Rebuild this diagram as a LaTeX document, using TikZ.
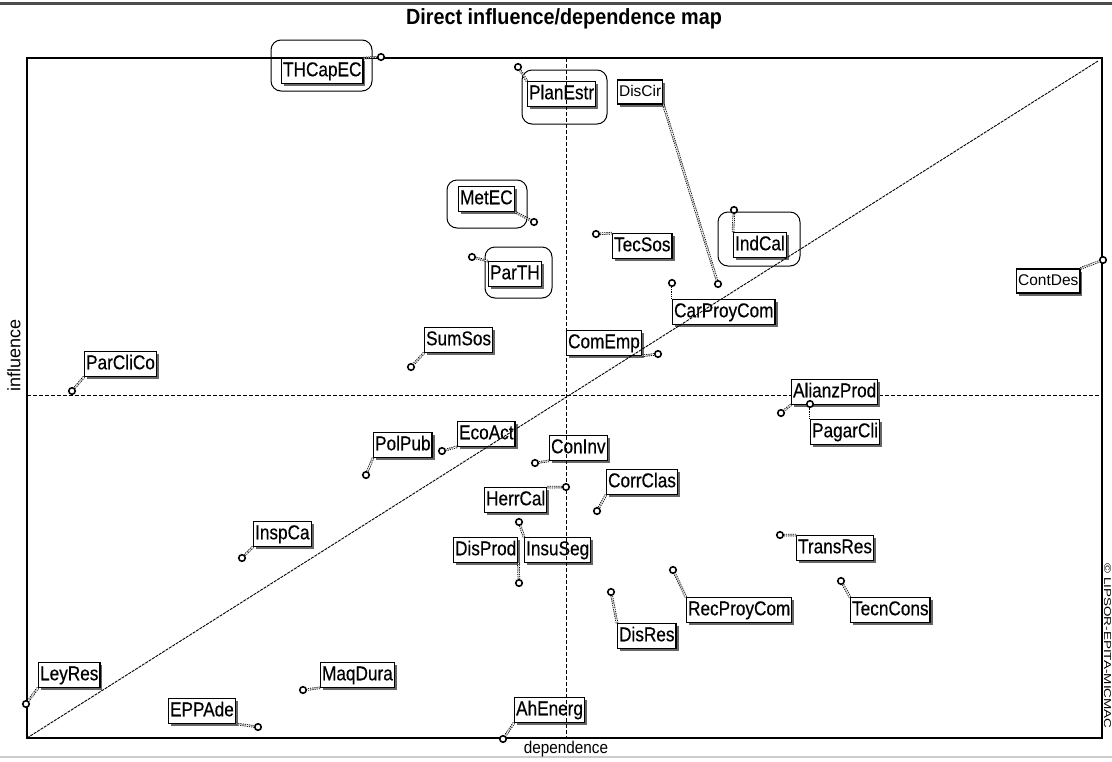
\documentclass[tikz,border=0pt]{standalone}
\usepackage{fontspec}
\setmainfont{Liberation Sans}
\newfontfamily\labfont[FakeStretch=0.86,FakeBold=0.4]{Liberation Sans}
\newfontfamily\titfont[FakeStretch=0.9]{Liberation Sans}
\newfontfamily\widefont[FakeStretch=1.35]{Liberation Sans}
\usetikzlibrary{shadows}
\begin{document}
\begin{tikzpicture}[x=1pt,y=-1pt,
  lbl/.style={draw, fill=white, line width=1.2pt, inner xsep=1.5pt, inner ysep=3pt, anchor=west,
    text height=14.5pt, text depth=4pt, font=\labfont\fontsize{20}{22}\selectfont,
    drop shadow={shadow xshift=2.5pt, shadow yshift=-2.5pt, fill=black!60, opacity=1}},
  lblw/.style={lbl, font=\fontsize{15.5}{18}\selectfont, text height=11.5pt, text depth=3.5pt, inner ysep=4.5pt},
  mk/.style={circle, draw, fill=white, line width=1.6pt, inner sep=0pt, minimum size=6.5pt},
  con/.style={draw=black, line width=0.8pt, double=white, double distance=0.9pt, dash pattern=on 1.2pt off 1pt},
  encl/.style={draw, rounded corners=10pt, line width=1pt},
  axis/.style={line width=1.6pt},
  mid/.style={line width=0.8pt, dash pattern=on 4pt off 2pt},
  diag/.style={line width=0.9pt, dash pattern=on 3pt off 1pt}
]
\useasboundingbox[fill=white] (0,0) rectangle (1112,761);
\draw[line width=3pt, black!70] (0,3) -- (1112,3);
\draw[line width=1.5pt, black!20] (0,757) -- (1112,757);
\node[font=\titfont\bfseries\fontsize{22}{24}\selectfont] (title) at (564,19) {Direct influence/dependence map};

% frame and axes
\coordinate (bl) at (27,738);
\coordinate (tr) at (1102,58);
\draw[axis] (bl) rectangle (tr);
\coordinate (hl) at (27,395);
\coordinate (hr) at (1102,395);
\draw[mid] (hl) -- (hr);
\node[font=\fontsize{18}{20}\selectfont, rotate=90] (ylab) at (14,355) {influence};
\node[font=\titfont\fontsize{17}{19}\selectfont] (xlab) at (566,749) {dependence};
\node[font=\widefont\fontsize{10}{12}\selectfont, rotate=-90, inner sep=0pt] (copy) at (1107.5,646) {© LIPSOR-EPITA-MICMAC};

% enclosures
\draw[encl] (271,40) rectangle (372,91);
\draw[encl] (522,70) rectangle (607,124);
\draw[encl] (447,180) rectangle (527,228);
\draw[encl] (485,247) rectangle (552,298);
\draw[encl] (718,212) rectangle (800,266);

% labels
\node[lbl] (lTHCapEC) at (281,71) {THCapEC};
\node[lbl] (lPlanEstr) at (527,94) {PlanEstr};
\node[lblw] (lDisCir) at (617,92) {DisCir};
\node[lbl] (lMetEC) at (458,199) {MetEC};
\node[lbl] (lParTH) at (488,274) {ParTH};
\node[lbl] (lTecSos) at (612,246) {TecSos};
\node[lbl] (lIndCal) at (733,245) {IndCal};
\node[lblw] (lContDes) at (1016,281) {ContDes};
\node[lbl] (lCarProyCom) at (672,312) {CarProyCom};
\node[lbl] (lComEmp) at (566,343) {ComEmp};
\node[lbl] (lSumSos) at (424,340) {SumSos};
\node[lbl] (lParCliCo) at (84,364) {ParCliCo};
\node[lbl] (lAlianzProd) at (791,392) {AlianzProd};
\node[lbl] (lPagarCli) at (810,432) {PagarCli};
\node[lbl] (lPolPub) at (373,445) {PolPub};
\node[lbl] (lEcoAct) at (457,434) {EcoAct};
\node[lbl] (lConInv) at (549,448) {ConInv};
\node[lbl] (lHerrCal) at (484,500) {HerrCal};
\node[lbl] (lCorrClas) at (606,482) {CorrClas};
\node[lbl] (lDisProd) at (453,550) {DisProd};
\node[lbl] (lInsuSeg) at (524,550) {InsuSeg};
\node[lbl] (lInspCa) at (253,534) {InspCa};
\node[lbl] (lTransRes) at (796,548) {TransRes};
\node[lbl] (lRecProyCom) at (686,610) {RecProyCom};
\node[lbl] (lDisRes) at (617,636) {DisRes};
\node[lbl] (lTecnCons) at (850,610) {TecnCons};
\node[lbl] (lLeyRes) at (38,675) {LeyRes};
\node[lbl] (lMaqDura) at (320,675) {MaqDura};
\node[lbl] (lEPPAde) at (168,711) {EPPAde};
\node[lbl] (lAhEnerg) at (514,710) {AhEnerg};

% reference lines drawn over labels
\coordinate (vt) at (566,58);
\coordinate (vb) at (566,738);
\draw[mid] (vt) -- (vb);
\coordinate (dtr) at (1098,61);
\draw[diag] (bl) -- (dtr);

% markers
\node[mk] (pTHCapEC) at (381,57) {};
\node[mk] (pPlanEstr) at (518,67) {};
\node[mk] (pDisCir) at (718,284) {};
\node[mk] (pMetEC) at (534,222) {};
\node[mk] (pParTH) at (472,257) {};
\node[mk] (pTecSos) at (596,234) {};
\node[mk] (pIndCal) at (734,210) {};
\node[mk] (pContDes) at (1103,260) {};
\node[mk] (pCarProyCom) at (672,283) {};
\node[mk] (pComEmp) at (658,354) {};
\node[mk] (pSumSos) at (411,367) {};
\node[mk] (pParCliCo) at (72,391) {};
\node[mk] (pAlianzProd) at (781,413) {};
\node[mk] (pPagarCli) at (810,404) {};
\node[mk] (pPolPub) at (366,475) {};
\node[mk] (pEcoAct) at (442,451) {};
\node[mk] (pConInv) at (535,463) {};
\node[mk] (pHerrCal) at (566,487) {};
\node[mk] (pCorrClas) at (597,511) {};
\node[mk] (pDisProd) at (519,583) {};
\node[mk] (pInsuSeg) at (519,522) {};
\node[mk] (pInspCa) at (242,558) {};
\node[mk] (pTransRes) at (780,535) {};
\node[mk] (pRecProyCom) at (673,570) {};
\node[mk] (pDisRes) at (611,592) {};
\node[mk] (pTecnCons) at (841,581) {};
\node[mk] (pLeyRes) at (26,704) {};
\node[mk] (pMaqDura) at (303,690) {};
\node[mk] (pEPPAde) at (258,727) {};
\node[mk] (pAhEnerg) at (503,739) {};

% connectors
\draw[con] (lTHCapEC.north east) -- (pTHCapEC);
\draw[con] (lPlanEstr.north west) -- (pPlanEstr);
\draw[con] (lDisCir.south east) -- (pDisCir);
\draw[con] (lMetEC.south east) -- (pMetEC);
\draw[con] (lParTH.north west) -- (pParTH);
\draw[con] (lTecSos.north west) -- (pTecSos);
\draw[con] (lIndCal.north west) -- (pIndCal);
\draw[con] (lContDes.north east) -- (pContDes);
\draw[con] (lCarProyCom.north west) -- (pCarProyCom);
\draw[con] (lComEmp.south east) -- (pComEmp);
\draw[con] (lSumSos.south west) -- (pSumSos);
\draw[con] (lParCliCo.south west) -- (pParCliCo);
\draw[con] (lAlianzProd.south west) -- (pAlianzProd);
\draw[con] (lPagarCli.north west) -- (pPagarCli);
\draw[con] (lPolPub.south west) -- (pPolPub);
\draw[con] (lEcoAct.south west) -- (pEcoAct);
\draw[con] (lConInv.south west) -- (pConInv);
\draw[con] (lHerrCal.north east) -- (pHerrCal);
\draw[con] (lCorrClas.south west) -- (pCorrClas);
\draw[con] (lDisProd.south east) -- (pDisProd);
\draw[con] (lInsuSeg.north west) -- (pInsuSeg);
\draw[con] (lInspCa.south west) -- (pInspCa);
\draw[con] (lTransRes.north west) -- (pTransRes);
\draw[con] (lRecProyCom.north west) -- (pRecProyCom);
\draw[con] (lDisRes.north west) -- (pDisRes);
\draw[con] (lTecnCons.north west) -- (pTecnCons);
\draw[con] (lLeyRes.south west) -- (pLeyRes);
\draw[con] (lMaqDura.south west) -- (pMaqDura);
\draw[con] (lEPPAde.south east) -- (pEPPAde);
\draw[con] (lAhEnerg.south west) -- (pAhEnerg);
\end{tikzpicture}
\end{document}
